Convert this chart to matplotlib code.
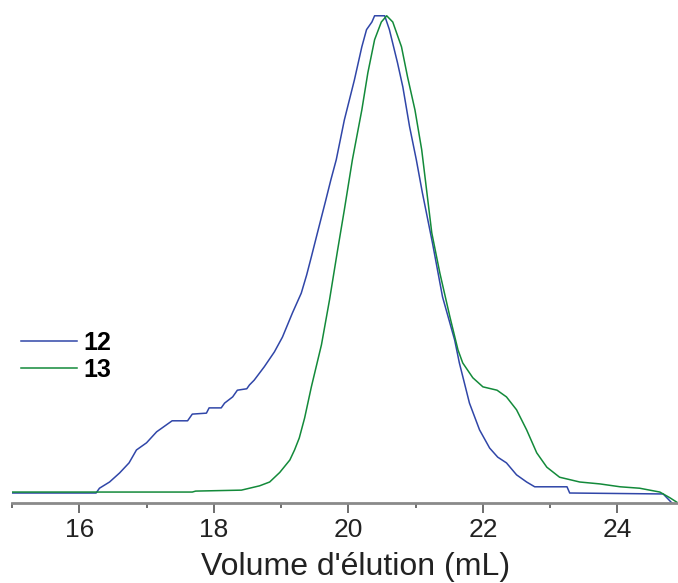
import matplotlib
matplotlib.use("Agg")
import matplotlib.pyplot as plt

plt.rcParams['font.family'] = ['Liberation Sans', 'DejaVu Sans']

# elution volume (mL) and normalised detector signal
vol_12 = [15.0, 16.25, 16.30, 16.45, 16.60, 16.74, 16.85, 17.00, 17.15, 17.38, 17.61,
          17.68, 17.89, 17.93, 18.11, 18.16, 18.28, 18.35, 18.49, 18.53, 18.60, 18.75,
          18.90, 19.02, 19.17, 19.30, 19.38, 19.45, 19.54, 19.66, 19.74, 19.82, 19.94,
          20.09, 20.20, 20.27, 20.35, 20.39, 20.54, 20.61, 20.73, 20.81, 20.91, 21.01,
          21.10, 21.25, 21.40, 21.58, 21.65, 21.80, 21.95, 22.10, 22.22, 22.35, 22.50,
          22.65, 22.77, 23.25, 23.29, 24.68, 24.81]
sig_12 = [0.0, 0.0, 0.010, 0.023, 0.042, 0.063, 0.090, 0.105, 0.128, 0.151, 0.151,
          0.165, 0.167, 0.178, 0.178, 0.188, 0.201, 0.215, 0.218, 0.226, 0.236, 0.264,
          0.295, 0.326, 0.377, 0.418, 0.456, 0.494, 0.544, 0.610, 0.655, 0.697, 0.780,
          0.864, 0.933, 0.969, 0.985, 0.998, 0.998, 0.969, 0.900, 0.849, 0.766, 0.697,
          0.628, 0.523, 0.410, 0.320, 0.272, 0.188, 0.132, 0.094, 0.075, 0.063, 0.038,
          0.023, 0.013, 0.013, 0.0, -0.002, -0.021]

vol_13 = [15.0, 17.68, 17.73, 18.41, 18.53, 18.68, 18.83, 18.98, 19.13, 19.20, 19.27,
          19.35, 19.45, 19.60, 19.72, 19.84, 19.94, 20.06, 20.20, 20.29, 20.39, 20.49,
          20.57, 20.66, 20.79, 20.88, 20.99, 21.09, 21.24, 21.36, 21.51, 21.63, 21.70,
          21.85, 22.00, 22.21, 22.35, 22.50, 22.65, 22.80, 22.95, 23.14, 23.44, 23.74,
          24.04, 24.33, 24.63, 24.78, 24.88]
sig_13 = [0.002, 0.002, 0.004, 0.006, 0.010, 0.015, 0.023, 0.043, 0.069, 0.090, 0.115,
          0.157, 0.222, 0.310, 0.404, 0.508, 0.592, 0.697, 0.801, 0.879, 0.948, 0.985,
          0.998, 0.985, 0.933, 0.870, 0.801, 0.718, 0.544, 0.460, 0.368, 0.299, 0.272,
          0.241, 0.222, 0.215, 0.201, 0.174, 0.132, 0.084, 0.054, 0.033, 0.023, 0.019,
          0.013, 0.010, 0.002, -0.010, -0.019]

fig = plt.figure(figsize=(6.78, 5.83), dpi=100)
ax = fig.add_axes([12/678, 80/583, 666/678, 503/583])

ax.plot(vol_12, sig_12, color='#3046a8', lw=1.1, label='12')
ax.plot(vol_13, sig_13, color='#138a3a', lw=1.1, label='13')

ax.set_xlim(15, 24.9)
ax.set_ylim(-0.0209, 1.031)

for s in ['top', 'right', 'left']:
    ax.spines[s].set_visible(False)
ax.spines['bottom'].set_color('#8a8a8a')
ax.spines['bottom'].set_linewidth(2)
ax.set_yticks([])
ax.set_xticks([16, 18, 20, 22, 24])
ax.set_xticks([15, 17, 19, 21, 23], minor=True)
ax.tick_params(axis='x', which='major', length=7.2, width=1.2, color='#555555',
               labelsize=19, pad=3.5, labelcolor='#222222')
ax.tick_params(axis='x', which='minor', length=3.6, width=1.2, color='#555555')

fig.text(355.5/678, 8/583, "Volume d'élution (mL)", fontsize=23, color='#222222',
         ha='center', va='baseline')

ax.legend(loc='upper left', bbox_to_anchor=(21/678, 252.5/583),
          bbox_transform=fig.transFigure, frameon=False, borderaxespad=0,
          borderpad=0, handlelength=2.24, handletextpad=0.24, labelspacing=0.13,
          prop={'size': 18, 'weight': 'bold'})

fig.savefig('out.png', dpi=100)
